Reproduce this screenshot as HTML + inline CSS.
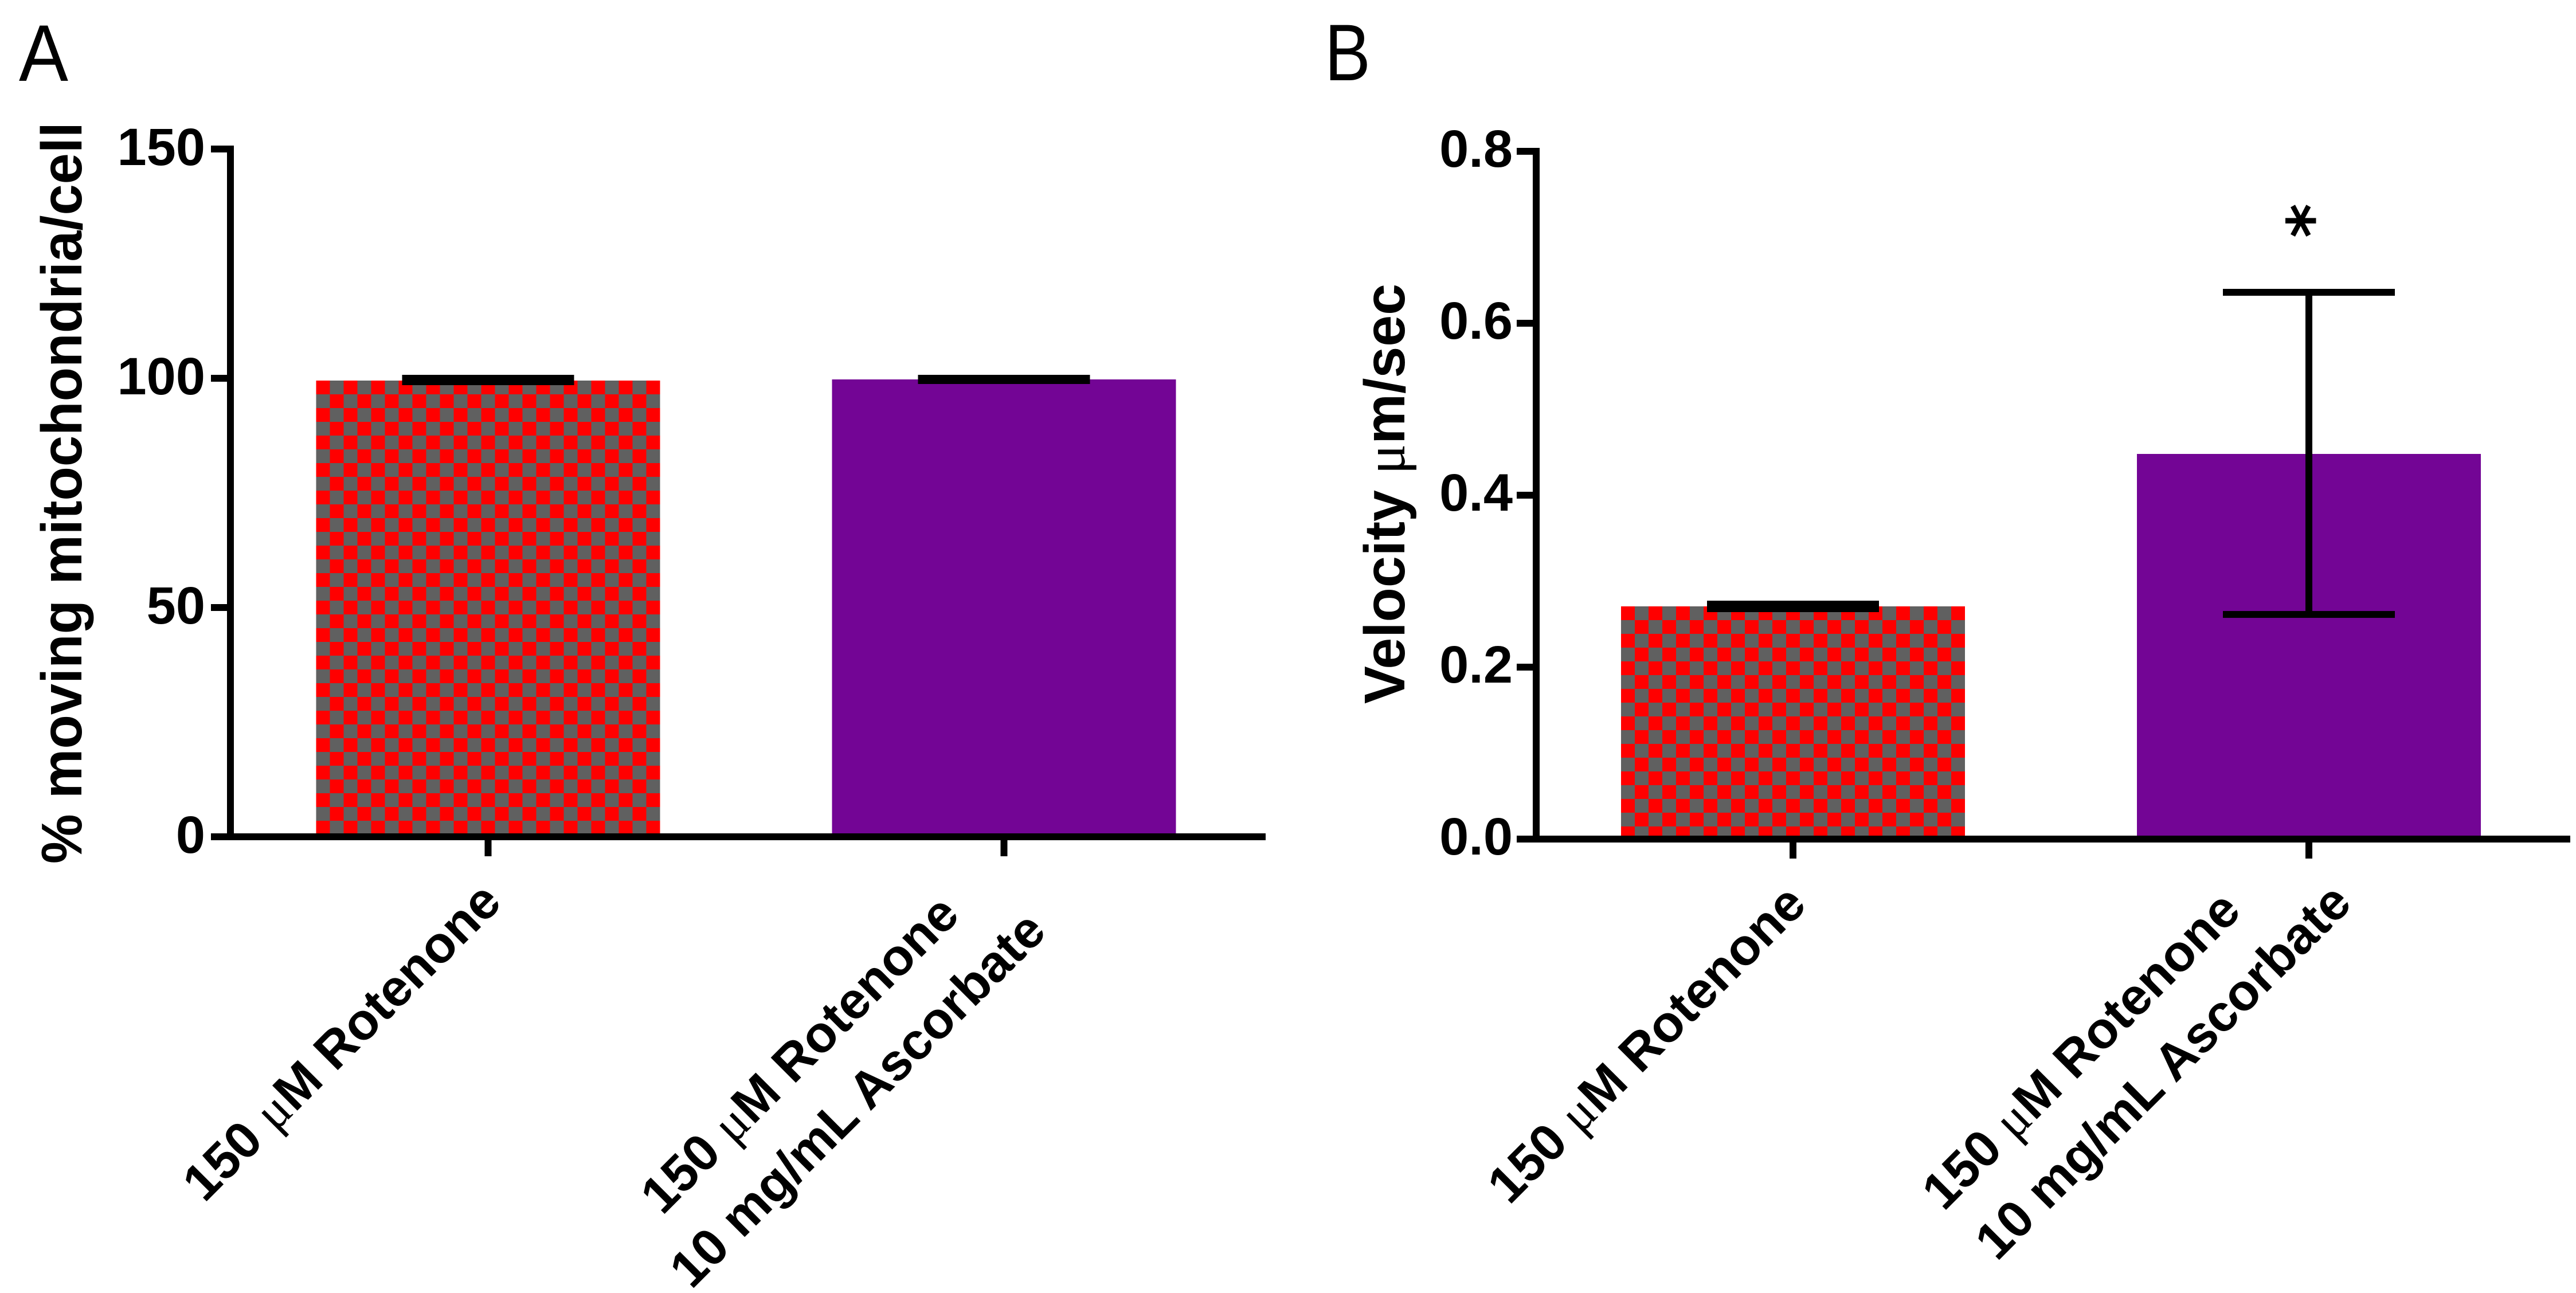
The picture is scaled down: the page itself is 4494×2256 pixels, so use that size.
<!DOCTYPE html>
<html>
<head>
<meta charset="utf-8">
<title>Mitochondria motility bar charts</title>
<style>
html,body{margin:0;padding:0;background:#fff}
svg{display:block}
text{font-family:"Liberation Sans",sans-serif;fill:#000}
.tick{font-size:92px;font-weight:bold}
.title{font-size:100px;font-weight:bold}
.cat{font-size:90px;font-weight:bold}
.mu{font-family:"Liberation Serif",serif;font-weight:normal}
.letter{font-size:140px}
</style>
</head>
<body>
<svg id="fig" xmlns="http://www.w3.org/2000/svg" width="4494" height="2256" viewBox="0 0 4494 2256">
<rect width="4494" height="2256" fill="#fff"/>
<defs id="defs"></defs>
<g id="panelA">
<text class="letter" x="33" y="141" textLength="86" lengthAdjust="spacingAndGlyphs">A</text>
<text class="title" transform="translate(142,1507) rotate(-90)" textLength="1294" lengthAdjust="spacingAndGlyphs">% moving mitochondria/cell</text>
</g>
<g id="panelB">
<text class="letter" x="2311" y="140" textLength="80" lengthAdjust="spacingAndGlyphs">B</text>
<text class="title" transform="translate(2450,1228) rotate(-90)" textLength="733" lengthAdjust="spacingAndGlyphs">Velocity <tspan class="mu">μ</tspan>m/sec</text>
</g>
</svg>
<script>
// ---- chart data ----
const categoryLines = [["150 |μ|M Rotenone"], ["150 |μ|M Rotenone", "10 mg/mL Ascorbate"]];
const tickValuesA = [0, 50, 100, 150];
const tickLabelsA = ["0", "50", "100", "150"];
const barValuesA = [99.5, 99.75];
const errHighA = [100, 100];
const errLowA = [99.25, 99.5];
const tickValuesB = [0, 0.2, 0.4, 0.6, 0.8];
const tickLabelsB = ["0.0", "0.2", "0.4", "0.6", "0.8"];
const barValuesB = [0.2707, 0.448];
const errHighB = [0.2733, 0.636];
const errLowB = [0.268, 0.2613];
const significanceB = ["", "*"];

const NS = "http://www.w3.org/2000/svg";
const defs = document.getElementById("defs");

function make(parent, tag, attrs, text) {
  const el = document.createElementNS(NS, tag);
  for (const k in attrs) el.setAttribute(k, attrs[k]);
  if (text !== undefined) el.textContent = text;
  parent.appendChild(el);
  return el;
}

function checkerFill(id, x, y) {
  const p = make(defs, "pattern", {id: id, patternUnits: "userSpaceOnUse", width: 48, height: 48, patternTransform: "translate(" + x + "," + y + ")"});
  make(p, "rect", {width: 48, height: 48, fill: "#606060"});
  make(p, "rect", {width: 24, height: 24, fill: "#ff0000"});
  make(p, "rect", {x: 24, y: 24, width: 24, height: 24, fill: "#ff0000"});
  return "url(#" + id + ")";
}

function drawPanel(cfg) {
  const g = document.getElementById(cfg.group);
  const yScale = v => cfg.yZero - v * cfg.pxPerUnit;
  const xScale = i => cfg.xFirst + i * cfg.xStep;
  const T = 12;

  // bars
  cfg.bars.forEach((v, i) => {
    const left = xScale(i) - cfg.barWidth / 2;
    const top = yScale(v);
    const fill = i === 0 ? checkerFill(cfg.group + "-check", left, top) : "#730595";
    const bar = make(g, "rect", {x: left, y: top, width: cfg.barWidth, height: cfg.yZero - top, fill: fill});
    
    
  });

  // error bars
  cfg.bars.forEach((v, i) => {
    const cx = xScale(i);
    const hi = yScale(cfg.errHigh[i]);
    const lo = yScale(cfg.errLow[i]);
    const eb = make(g, "g", {});
    
    
    make(eb, "rect", {x: cx - T / 2, y: hi, width: T, height: lo - hi, fill: "#000"});
    make(eb, "rect", {x: cx - cfg.capWidth / 2, y: hi - T / 2, width: cfg.capWidth, height: T, fill: "#000"});
    make(eb, "rect", {x: cx - cfg.capWidth / 2, y: lo - T / 2, width: cfg.capWidth, height: T, fill: "#000"});
  });

  // y axis
  const topTick = yScale(cfg.ticks[cfg.ticks.length - 1]);
  const yAxis = make(g, "rect", {x: cfg.axisX - T / 2, y: topTick - T / 2, width: T, height: cfg.yZero - topTick + T, fill: "#000"});
  
  
  cfg.ticks.forEach((v, i) => {
    const y = yScale(v);
    const tick = make(g, "rect", {x: cfg.axisX - T / 2 - 28, y: y - T / 2, width: 28, height: T, fill: "#000"});
    
    
    const label = make(g, "text", {"class": "tick", x: cfg.axisX + cfg.tickLabelDx, y: y + cfg.tickLabelDy, "text-anchor": "end"}, cfg.tickLabels[i]);
    
    
  });

  // x axis
  const xAxis = make(g, "rect", {x: cfg.axisX - T / 2 - 28, y: cfg.yZero - T / 2, width: cfg.axisRight - cfg.axisX + T / 2 + 28, height: T, fill: "#000"});
  
  

  // categories
  categoryLines.forEach((lines, i) => {
    const cx = xScale(i);
    const tick = make(g, "rect", {x: cx - T / 2, y: cfg.yZero, width: T, height: 34, fill: "#000"});
    
    
    const block = make(g, "g", {});
    
    
    lines.forEach((line, k) => {
      const off = cfg.labelOffsets[i][k];
      const t = make(block, "text", {"class": "cat", "text-anchor": "middle", transform: "translate(" + (cx + off[0]) + "," + (cfg.yZero + off[1]) + ") rotate(-45)"});
      line.split("|").forEach(part => {
        make(t, "tspan", part === "μ" ? {"class": "mu"} : {}, part);
      });
    });
  });

  // significance marks
  (cfg.marks || []).forEach((m, i) => {
    if (!m) return;
    const y = yScale(cfg.errHigh[i]) - 125;
    const mark = make(g, "text", {transform: "translate(" + (xScale(i) - 14) + "," + y + ") rotate(90)", x: 0, y: 59, "text-anchor": "middle", style: 'font-family:"DejaVu Sans",sans-serif;font-size:115px;font-weight:bold'}, m);
    
    
  });
}

drawPanel({id: "a", group: "panelA", bars: barValuesA, errHigh: errHighA, errLow: errLowA, ticks: tickValuesA, tickLabels: tickLabelsA,
  labelOffsets: [[[-234, 379]], [[-335, 401], [-234, 480]]],
  yZero: 1460, pxPerUnit: 8, xFirst: 851.5, xStep: 900, barWidth: 600, capWidth: 300, axisX: 402, axisRight: 2208, tickLabelDx: -44, tickLabelDy: 28});
drawPanel({id: "b", group: "panelB", bars: barValuesB, errHigh: errHighB, errLow: errLowB, ticks: tickValuesB, tickLabels: tickLabelsB, marks: significanceB,
  labelOffsets: [[[-234, 379]], [[-376, 390], [-233, 427]]],
  yZero: 1464, pxPerUnit: 1500, xFirst: 3128, xStep: 900, barWidth: 600, capWidth: 300, axisX: 2680, axisRight: 4484, tickLabelDx: -41, tickLabelDy: 27});
</script>
</body>
</html>
